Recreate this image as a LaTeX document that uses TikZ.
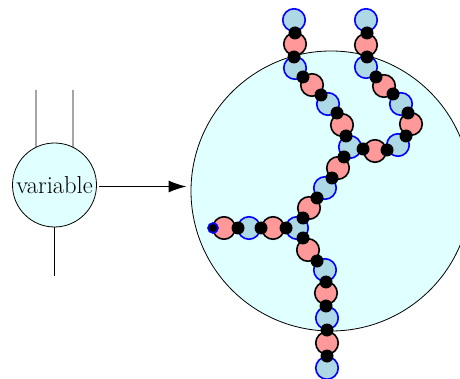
\documentclass[tikz,border=0pt]{standalone}
\usetikzlibrary{arrows.meta}
\definecolor{beadred}{RGB}{255,153,153}
\definecolor{beadblue}{RGB}{173,216,230}
\definecolor{cyanfill}{RGB}{224,255,255}
\tikzset{
  rb/.style={circle, draw=black, fill=beadred, line width=1.6pt, minimum size=22.5pt, inner sep=0pt},
  bb/.style={circle, draw=blue, fill=beadblue, line width=1.6pt, minimum size=22.5pt, inner sep=0pt},
  dt/.style={circle, fill=black, minimum size=13pt, inner sep=0pt},
  endb/.style={circle, draw=blue, fill=black, line width=1.6pt, minimum size=10pt, inner sep=0pt},
  varnode/.style={circle, draw=black, fill=cyanfill, line width=0.8pt, minimum size=84pt, inner sep=0pt, font=\fontsize{24.5}{28}\selectfont},
  big/.style={circle, draw=black, fill=cyanfill, line width=0.8pt, minimum size=280pt, inner sep=0pt},
  leg/.style={line width=0.8pt},
}
\begin{document}
\begin{tikzpicture}[x=1pt,y=-1pt]
\useasboundingbox (0,0) rectangle (460,379);
\clip (0,0) rectangle (460,379);
% variable node
\node[varnode] (var) at (54.5,185) {variable};
\coordinate (t1) at (36,90);
\coordinate (t2) at (73,90);
\coordinate (b1) at (54.5,276);
\draw[leg] (t1) -- (var.116);
\draw[leg] (t2) -- (var.64);
\draw[leg] (var.south) -- (b1);
% big circle
\node[big] (bigc) at (331,191) {};
\coordinate (as) at (99,186.5);
\draw[line width=1.5pt, -{Latex[length=18pt,width=12pt]}, shorten >=4pt] (as) -- (as -| bigc.west);
% chain A
\node[bb] (a1) at (294,20) {};
\node[rb] (a2) at (295,44) {};
\node[bb] (a3) at (295,68) {};
\node[rb] (a4) at (312,85) {};
\node[bb] (a5) at (328,104) {};
\node[rb] (a6) at (342,125) {};
% chain B
\node[bb] (b1b) at (366,20) {};
\node[rb] (b2) at (366,45) {};
\node[bb] (b3) at (366,67) {};
\node[rb] (b4) at (384,86) {};
\node[bb] (b5) at (401,104) {};
\node[rb] (b6) at (411,124) {};
\node[bb] (b7) at (398,145) {};
\node[rb] (b8) at (375,151) {};
% junction 1
\node[bb] (j1) at (350,147) {};
% chain C
\node[rb] (c1) at (338,168) {};
\node[bb] (c2) at (325,188) {};
\node[rb] (c3) at (309,208) {};
% chain D
\node[rb] (d1) at (224,228) {};
\node[bb] (d2) at (249,228) {};
\node[rb] (d3) at (273,228) {};
% junction 2
\node[bb] (j2) at (297,228) {};
% chain E
\node[rb] (e1) at (308,250) {};
\node[bb] (e2) at (325,270) {};
\node[rb] (e3) at (326,293) {};
\node[bb] (e4) at (327,318) {};
\node[rb] (e5) at (327,343) {};
\node[bb] (e6) at (327,368) {};
% end
\node[endb] (endd) at (213,228) {};
% dots
\foreach \p in {(295,33),(294,57),(303,77),(321,95),(337,113),(346,136),
  (367,33),(367,57),(376,77),(393,94),(408,113),(406,136),(387,150),(363,149),
  (344,157),(332,178),(317,198),(303,218),
  (286,228),(261,228),(238,228),
  (303,238),(317,261),(326,282),(326,306),(327,330),(327,356)}
  \node[dt] at \p {};
\end{tikzpicture}
\end{document}
